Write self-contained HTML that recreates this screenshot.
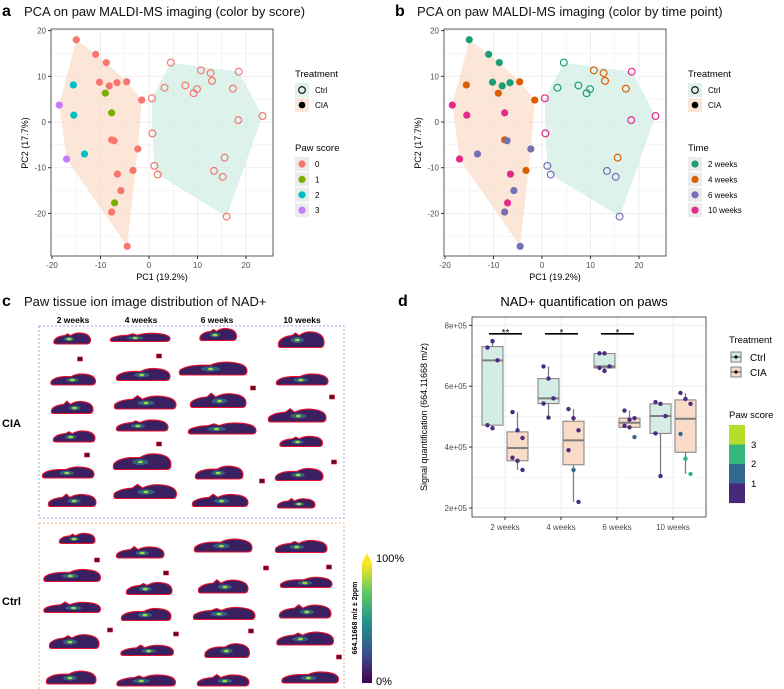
<!DOCTYPE html>
<html><head><meta charset="utf-8"><style>
body{margin:0;background:#fff}
svg{display:block;font-family:"Liberation Sans","DejaVu Sans",sans-serif}
</style></head><body>
<svg id="fig" width="784" height="689" viewBox="0 0 784 689" xmlns="http://www.w3.org/2000/svg"></svg>
<script>
// ===== PCA data (shared by panels a and b) =====
const pcaPC1 = [-15,-11,-8.8,-10.2,-8.2,-6.6,-4.6,-1.5,-9,-15.6,-18.5,-15.5,-7.7,-7.7,-7.2,-2.3,-13.3,-17,-6.5,-3.3,-5.8,-7.1,-7.7,-4.5,
  4.5,10.7,12.7,18.5,3.2,7.5,9.9,9.2,13,17.3,0.6,18.4,23.4,0.7,15.6,1.1,1.8,13.4,15.2,16];
const pcaPC2 = [18,14.8,13,8.7,7.9,8.6,8.8,4.8,6.3,8.1,3.7,1.5,2,-3.9,-4.1,-5.9,-7,-8.1,-11.4,-10.6,-15,-17.7,-19.7,-27.2,
  13,11.3,10.7,11,7.5,8,7.2,6.3,9,7.3,5.2,0.4,1.3,-2.5,-7.8,-9.6,-11.5,-10.7,-12,-20.7];
const pcaTreat = ["CIA","CIA","CIA","CIA","CIA","CIA","CIA","CIA","CIA","CIA","CIA","CIA","CIA","CIA","CIA","CIA","CIA","CIA","CIA","CIA","CIA","CIA","CIA","CIA",
  "Ctrl","Ctrl","Ctrl","Ctrl","Ctrl","Ctrl","Ctrl","Ctrl","Ctrl","Ctrl","Ctrl","Ctrl","Ctrl","Ctrl","Ctrl","Ctrl","Ctrl","Ctrl","Ctrl","Ctrl"];
const pcaScore = [0,0,0,0,0,0,0,0,1,2,3,2,1,0,0,0,2,3,0,0,0,1,0,0, 0,0,0,0,0,0,0,0,0,0,0,0,0,0,0,0,0,0,0,0];
const pcaTime = [2,2,2,2,2,2,4,4,4,4,10,10,10,4,6,6,6,10,10,4,6,10,6,6, 2,4,4,10,2,2,2,2,4,4,10,10,10,10,4,6,6,6,6,6];
const pcaXTicks = [-20,-10,0,10,20];
const pcaYTicks = [20,10,0,-10,-20];
const scoreLevels = [0,1,2,3];
const timeLevels = [2,4,6,10];
const timeLabels = ["2 weeks","4 weeks","6 weeks","10 weeks"];

// ===== NAD+ boxplot data (units of 1e5) =====
const nadCats = ["2 weeks","4 weeks","6 weeks","10 weeks"];
const ctrlQ1 = [4.72,5.43,6.6,4.45], ctrlMed=[6.85,5.6,6.65,5.02], ctrlQ3=[7.3,6.25,7.07,5.42], ctrlLo=[4.6,4.97,6.5,3.05], ctrlHi=[7.5,6.65,7.1,5.48];
const ciaQ1 = [3.55,3.42,4.65,3.83], ciaMed=[3.97,4.22,4.8,4.93], ciaQ3=[4.5,4.85,4.95,5.55], ciaLo=[3.25,2.2,4.65,3.12], ciaHi=[5.15,5.25,5.2,5.78];
const ctrlPts = [[7.27,7.48,6.85,4.72,4.62],[6.65,6.25,5.6,5.43,4.97],[7.08,7.08,6.65,6.6,6.5],[5.48,5.42,5.02,4.45,3.05]];
const ciaPts = [[5.15,4.55,4.3,3.65,3.55,3.25],[5.25,4.95,4.55,3.9,3.25,2.2],[5.2,4.9,4.95,4.7,4.65,4.33],[5.78,5.58,5.42,4.43,3.62,3.12]];
const ciaPtScore = [[1,1,1,1,1,1],[1,1,1,1,2,1],[1,1,1,1,1,2],[1,1,1,2,2.6,2.6]];
const nadYTicks = [2,4,6,8];
const nadYLabels = ["2e+05","4e+05","6e+05","8e+05"];
const sigLabels = ["**","*","*"];

const NS="http://www.w3.org/2000/svg";
const svg=document.getElementById('fig');
function mk(tag,attrs,parent,txt){const e=document.createElementNS(NS,tag);for(const k in attrs)e.setAttribute(k,attrs[k]);if(txt!==undefined)e.textContent=txt;(parent||svg).appendChild(e);return e;}

const scoreCol={0:"#f8766d",1:"#7cae00",2:"#00bfc4",3:"#c77cff"};
const timeCol={2:"#1b9e77",4:"#d95f02",6:"#7570b3",10:"#e7298a"};

function hull(pts){pts=pts.slice().sort((a,b)=>a[0]-b[0]||a[1]-b[1]);const cr=(o,a,b)=>(a[0]-o[0])*(b[1]-o[1])-(a[1]-o[1])*(b[0]-o[0]);const lo=[],up=[];for(const p of pts){while(lo.length>=2&&cr(lo[lo.length-2],lo[lo.length-1],p)<=0)lo.pop();lo.push(p);}for(let i=pts.length-1;i>=0;i--){const p=pts[i];while(up.length>=2&&cr(up[up.length-2],up[up.length-1],p)<=0)up.pop();up.push(p);}up.pop();lo.pop();return lo.concat(up);}

function pcaPanel(ox,letter,title,mode){
  const g=mk('g',{transform:`translate(${ox},0)`});
  
  
  const L=51,R=273,T=29,B=256;
  const sx=v=>149+v*4.85, sy=v=>122-v*4.57;
  mk('text',{x:2,y:16,'font-size':16,'font-weight':'bold',},g,letter);
  mk('text',{x:24,y:16,'font-size':13,fill:'#111',},g,title);
  mk('rect',{x:L,y:T,width:R-L,height:B-T,fill:'#fff',},g);
  for(let v=-25;v<=20;v+=5){const y=sy(v);if(y>T&&y<B)mk('line',{x1:L,x2:R,y1:y,y2:y,stroke:'#ebebeb','stroke-width':v%10===0?0.9:0.5},g);}
  for(let v=-15;v<=20;v+=5){const x=sx(v);if(x>L&&x<R)mk('line',{y1:T,y2:B,x1:x,x2:x,stroke:'#ebebeb','stroke-width':v%10===0?0.9:0.5},g);}
  const cia=[],ctl=[];
  pcaPC1.forEach((v,i)=>{(pcaTreat[i]==='CIA'?cia:ctl).push([sx(v),sy(pcaPC2[i])]);});
  const h1=mk('polygon',{points:hull(cia).map(p=>p.join(',')).join(' '),fill:'#f9dcc8','fill-opacity':0.7},g);
  
  const h2=mk('polygon',{points:hull(ctl).map(p=>p.join(',')).join(' '),fill:'#cfece3','fill-opacity':0.7},g);
  
  pcaPC1.forEach((v,i)=>{
    const c=mode==='score'?scoreCol[pcaScore[i]]:timeCol[pcaTime[i]];
    const filled=pcaTreat[i]==='CIA';
    const p=mk('circle',{cx:sx(v),cy:sy(pcaPC2[i]),r:filled?3.6:3.4,fill:filled?c:'none',stroke:c,'stroke-width':filled?0:1.2},g);
    
    
  });
  mk('rect',{x:L,y:T,width:R-L,height:B-T,fill:'none',stroke:'#333','stroke-width':0.8},g);
  pcaXTicks.forEach(v=>{const x=sx(v);mk('line',{x1:x,x2:x,y1:B,y2:B+3,stroke:'#333'},g);mk('text',{x:x,y:B+12,'font-size':8,fill:'#4d4d4d','text-anchor':'middle'},g,v);});
  pcaYTicks.forEach(v=>{const y=sy(v);mk('line',{x1:L-3,x2:L,y1:y,y2:y,stroke:'#333'},g);mk('text',{x:L-5,y:y+3,'font-size':8,fill:'#4d4d4d','text-anchor':'end'},g,v);});
  mk('text',{x:162,y:280,'font-size':9,'text-anchor':'middle',},g,'PC1 (19.2%)');
  mk('text',{x:28,y:143,'font-size':9,'text-anchor':'middle',transform:'rotate(-90 28 143)',},g,'PC2 (17.7%)');
  mk('text',{x:295,y:77,'font-size':9.5,},g,'Treatment');
  mk('rect',{x:295,y:83,width:14,height:14,fill:'#e0f1ea'},g);
  mk('circle',{cx:302,cy:90,r:3.3,fill:'none',stroke:'#000','stroke-width':1.1},g);
  mk('text',{x:315,y:93,'font-size':8,},g,'Ctrl');
  mk('rect',{x:295,y:98,width:14,height:14,fill:'#fbe6d8'},g);
  mk('circle',{cx:302,cy:105,r:3.3,fill:'#000'},g);
  mk('text',{x:315,y:108,'font-size':8,},g,'CIA');
  mk('text',{x:295,y:151,'font-size':9.5,},g,mode==='score'?'Paw score':'Time');
  const lv=mode==='score'?scoreLevels:timeLevels;
  lv.forEach((v,k)=>{const y=164+k*15.4;
    mk('rect',{x:295,y:y-7,width:14,height:14,fill:'#ebebeb'},g);
    mk('circle',{cx:302,cy:y,r:3.6,fill:mode==='score'?scoreCol[v]:timeCol[v]},g);
    const t=mk('text',{x:315,y:y+3,'font-size':8},g,mode==='score'?v:timeLabels[k]);
    
  });
}
pcaPanel(0,'a','PCA on paw MALDI-MS imaging (color by score)','score');
pcaPanel(393,'b','PCA on paw MALDI-MS imaging (color by time point)','time');

// ===== Panel c =====
(function(){
  const g=mk('g',{});
  mk('text',{x:2,y:306,'font-size':16,'font-weight':'bold'},g,'c');
  mk('text',{x:24,y:306,'font-size':13,fill:'#111',},g,'Paw tissue ion image distribution of NAD+');
  [["2 weeks",73],["4 weeks",141],["6 weeks",217],["10 weeks",302]].forEach(([t,x])=>mk('text',{x:x,y:323,'font-size':8.5,'font-weight':'bold','text-anchor':'middle',},g,t));
  mk('rect',{x:39,y:326,width:305,height:192,fill:'none',stroke:'#6b8fd6','stroke-width':0.8,'stroke-dasharray':'2,2',},g);
  mk('rect',{x:39,y:523,width:305,height:170,fill:'none',stroke:'#f0a060','stroke-width':0.8,'stroke-dasharray':'2,2',},g);
  mk('text',{x:2,y:427,'font-size':11,'font-weight':'bold',},g,'CIA');
  mk('text',{x:2,y:605,'font-size':11,'font-weight':'bold',},g,'Ctrl');
  const blobs=[[72,338,37,12],[73,379,45,12],[72,407,42,13],[74,436,42,12],[68,472,52,12],[72,500,48,13],
  [140,337,60,9],[143,374,54,13],[145,402,62,14],[142,425,52,12],[142,461,58,17],[145,491,63,15],
  [218,334,37,13],[213,368,68,14],[218,400,56,15],[222,428,68,12],[219,472,48,14],[220,500,56,13],
  [301,339,46,17],[302,379,52,12],[297,415,58,14],[301,441,43,11],[299,474,48,13],[296,503,38,10],
  [77,538,36,11],[72,575,57,13],[72,607,57,11],[74,641,50,15],[71,677,50,14],
  [140,552,48,12],[149,588,46,13],[146,614,50,13],[147,650,53,11],[146,680,59,12],
  [223,545,58,14],[223,586,50,14],[224,613,62,13],[227,650,45,15],[223,680,52,12],
  [301,546,52,13],[306,582,52,11],[305,611,52,14],[305,638,57,14],[310,677,57,12]];
  blobs.forEach((b,i)=>{const [cx,cy,w,h]=b;const x0=cx-w/2,x1=cx+w/2,y0=cy-h/2,y1=cy+h/2;const s=(i%3);
    const bump=s===0?0.15:(s===1?0.3:0.05);
    const d=`M${x0+3},${y1} Q${x0-1},${y1} ${x0+1},${cy+h*0.15} Q${x0+w*0.1},${y0+h*0.35} ${x0+w*0.3},${y0+h*0.3} L${x0+w*0.38},${y0+h*bump} L${x0+w*0.46},${y0+h*0.3} Q${x0+w*0.6},${y0} ${x0+w*0.78},${y0+h*0.1} Q${x1},${y0+h*0.2} ${x1},${cy+h*0.2} Q${x1},${y1} ${x1-4},${y1} Z`;
    const p=mk('path',{d:d,fill:'#3a2060',stroke:'#e8112d','stroke-width':1.1},g);
    
    mk('ellipse',{cx:cx-w*0.08+s*3,cy:cy+1,rx:w*0.14,ry:h*0.18,fill:'#2f7f8e',opacity:0.7},g);
    mk('ellipse',{cx:cx-w*0.08+s*3,cy:cy+1,rx:2.5,ry:1.3,fill:'#9fd83a'},g);
  });
  [[80,359],[159,356],[87,455],[159,444],[253,388],[262,481],[332,397],[334,462],[97,560],[166,573],[110,630],[176,634],[266,568],[251,631],[329,567],[339,657]].forEach(p=>mk('rect',{x:p[0]-2.5,y:p[1]-2,width:5,height:4,fill:'#5a0a2a',stroke:'#e8112d','stroke-width':0.6},g));
  const df=mk('defs',{},g);const lg=mk('linearGradient',{id:'vir',x1:0,y1:1,x2:0,y2:0},df);
  [["0","#440154"],["0.25","#3b528b"],["0.5","#21918c"],["0.75","#5ec962"],["1","#fde725"]].forEach(s=>mk('stop',{offset:s[0],'stop-color':s[1]},lg));
  mk('rect',{x:362,y:563,width:10,height:120,fill:'url(#vir)',},g);
  mk('polygon',{points:'362,563 372,563 367,553',fill:'#fde725'},g);
  mk('text',{x:376,y:562,'font-size':11},g,'100%');
  mk('text',{x:376,y:685,'font-size':11},g,'0%');
  mk('text',{x:357,y:618,'font-size':7,'font-weight':'bold','text-anchor':'middle',transform:'rotate(-90 357 618)',},g,'664.11668 m/z ± 2ppm');
})();

// ===== Panel d =====
(function(){
  const g=mk('g',{});
  const L=472,R=706,T=317,B=517;
  const sy=v=>508-(v-2)*30.45;
  const sx=i=>505+i*56;
  mk('text',{x:398,y:306,'font-size':16,'font-weight':'bold'},g,'d');
  mk('text',{x:584,y:306,'font-size':13,'text-anchor':'middle',},g,'NAD+ quantification on paws');
  mk('rect',{x:L,y:T,width:R-L,height:B-T,fill:'#fff'},g);
  for(let v=1;v<=8;v+=1){const y=sy(v);if(y>T&&y<B)mk('line',{x1:L,x2:R,y1:y,y2:y,stroke:'#ebebeb','stroke-width':v%2===0?0.9:0.5},g);}
  nadCats.forEach((c,i)=>mk('line',{x1:sx(i),x2:sx(i),y1:T,y2:B,stroke:'#ebebeb','stroke-width':0.9},g));
  function box(cx,q1,md,q3,lo,hi,fill,name){
    const w=21;
    mk('line',{x1:cx,x2:cx,y1:sy(hi),y2:sy(q3),stroke:'#7f7f7f','stroke-width':1.3},g);
    mk('line',{x1:cx,x2:cx,y1:sy(q1),y2:sy(lo),stroke:'#7f7f7f','stroke-width':1.3},g);
    const r=mk('rect',{x:cx-w/2,y:sy(q3),width:w,height:sy(q1)-sy(q3),fill:fill,stroke:'#7f7f7f','stroke-width':1},g);
    
    mk('line',{x1:cx-w/2,x2:cx+w/2,y1:sy(md),y2:sy(md),stroke:'#7f7f7f','stroke-width':2},g);
  }
  const ptCol=s=>s>=2.5?'#35b779':(s>=2?'#31688e':'#4b2c7e');
  nadCats.forEach((c,i)=>{
    box(sx(i)-12.5,ctrlQ1[i],ctrlMed[i],ctrlQ3[i],ctrlLo[i],ctrlHi[i],'#d3ece4','box-ctrl');
    box(sx(i)+12.5,ciaQ1[i],ciaMed[i],ciaQ3[i],ciaLo[i],ciaHi[i],'#f9dcc8','box-cia');
    ctrlPts[i].forEach((v,k)=>{const p=mk('circle',{cx:sx(i)-12.5+((k%3)-1)*5,cy:sy(v),r:2.2,fill:'#4b2c7e'},g);});
    ciaPts[i].forEach((v,k)=>{const p=mk('circle',{cx:sx(i)+12.5+((k%3)-1)*5,cy:sy(v),r:2.2,fill:ptCol(ciaPtScore[i][k])},g);});
  });
  sigLabels.forEach((s,i)=>{
    mk('line',{x1:sx(i)-16,x2:sx(i)+17,y1:sy(7.72),y2:sy(7.72),stroke:'#000','stroke-width':1.6},g);
    const t=mk('text',{x:sx(i)+0.5,y:sy(7.72)+2,'font-size':10,'text-anchor':'middle'},g,s);
    
  });
  mk('rect',{x:L,y:T,width:R-L,height:B-T,fill:'none',stroke:'#333','stroke-width':0.8},g);
  nadYTicks.forEach((v,k)=>{const y=sy(v);mk('line',{x1:L-3,x2:L,y1:y,y2:y,stroke:'#333'},g);mk('text',{x:L-5,y:y+3,'font-size':8,fill:'#4d4d4d','text-anchor':'end'},g,nadYLabels[k]);});
  nadCats.forEach((c,i)=>{mk('line',{x1:sx(i),x2:sx(i),y1:B,y2:B+3,stroke:'#333'},g);mk('text',{x:sx(i),y:B+13,'font-size':8,fill:'#4d4d4d','text-anchor':'middle'},g,c);});
  mk('text',{x:427,y:417,'font-size':9,'text-anchor':'middle',transform:'rotate(-90 427 417)',},g,'Signal quantification (664.11668 m/z)');
  mk('text',{x:729,y:343,'font-size':9.5,},g,'Treatment');
  [['Ctrl','#d3ece4',357],['CIA','#f9dcc8',372]].forEach(([t,f,y])=>{
    mk('rect',{x:731,y:y-5,width:10,height:10,fill:f,stroke:'#7f7f7f'},g);
    mk('line',{x1:731,x2:741,y1:y,y2:y,stroke:'#555'},g);
    mk('circle',{cx:736,cy:y,r:1.6,fill:'#000'},g);
    const e=mk('text',{x:750,y:y+4,'font-size':10},g,t);
  });
  mk('text',{x:729,y:418,'font-size':9.5,},g,'Paw score');
  ['#b5de2b','#35b779','#31688e','#482878'].forEach((c,k)=>mk('rect',{x:729,y:425+k*19.5,width:16,height:19.6,fill:c},g));
  [['3',448],['2',467],['1',487]].forEach(([t,y])=>mk('text',{x:751,y:y,'font-size':9.5},g,t));
})();
</script>
</body></html>
